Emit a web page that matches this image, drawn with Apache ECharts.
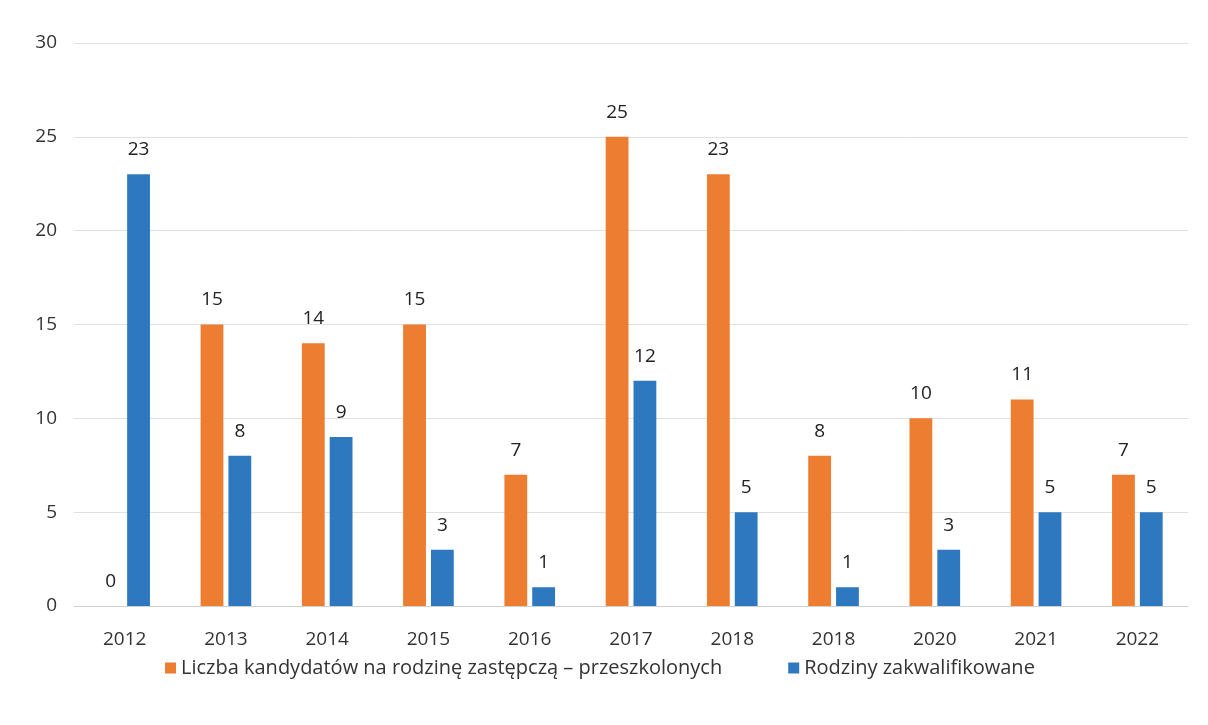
<!DOCTYPE html>
<html><head><meta charset="utf-8">
<script src="https://cdn.jsdelivr.net/npm/echarts@6/dist/echarts.min.js"></script>
<style>html,body{margin:0;padding:0;background:#fff}#c{width:1208px;height:725px}</style>
</head><body><div id="c"></div>
<script>
const categories = ['2012','2013','2014','2015','2016','2017','2018','2018','2020','2021','2022'];
const trainedCandidates = [0,15,14,15,7,25,23,8,10,11,7];
const qualifiedFamilies = [23,8,9,3,1,12,5,1,3,5,5];
const seriesNames = ['Liczba kandydatów na rodzinę zastępczą – przeszkolonych','Rodziny zakwalifikowane'];
const yTicks = {min:0,max:30,interval:5};

const font = '"Open Sans", sans-serif';
const chart = echarts.init(document.getElementById('c'));
const lbl = {show:true,position:'top',distance:15,color:'#222',fontSize:19,fontFamily:font};
chart.setOption({
  animation:false,
  grid:{left:74,right:20,top:43,bottom:119},
  legend:{bottom:42,left:160,itemWidth:11,itemHeight:11,itemGap:66,icon:'rect',
    textStyle:{color:'#333',fontSize:20,fontFamily:font}},
  xAxis:{type:'category',data:categories,
    axisLine:{lineStyle:{color:'#d0d0d0'}},axisTick:{show:false},
    axisLabel:{color:'#333',fontSize:19,fontFamily:font,margin:24}},
  yAxis:{type:'value',min:yTicks.min,max:yTicks.max,interval:yTicks.interval,
    axisLine:{show:false},axisTick:{show:false},
    splitLine:{lineStyle:{color:'#e0e0e0'}},
    axisLabel:{color:'#333',fontSize:19,fontFamily:font,margin:17}},
  series:[
    {name:seriesNames[0],type:'bar',data:trainedCandidates,itemStyle:{color:'#ED7D31'},
     barGap:'22%',barCategoryGap:'50%',label:lbl},
    {name:seriesNames[1],type:'bar',data:qualifiedFamilies,itemStyle:{color:'#2E78BF'},
     barGap:'22%',barCategoryGap:'50%',label:lbl}
  ]
});
</script></body></html>
